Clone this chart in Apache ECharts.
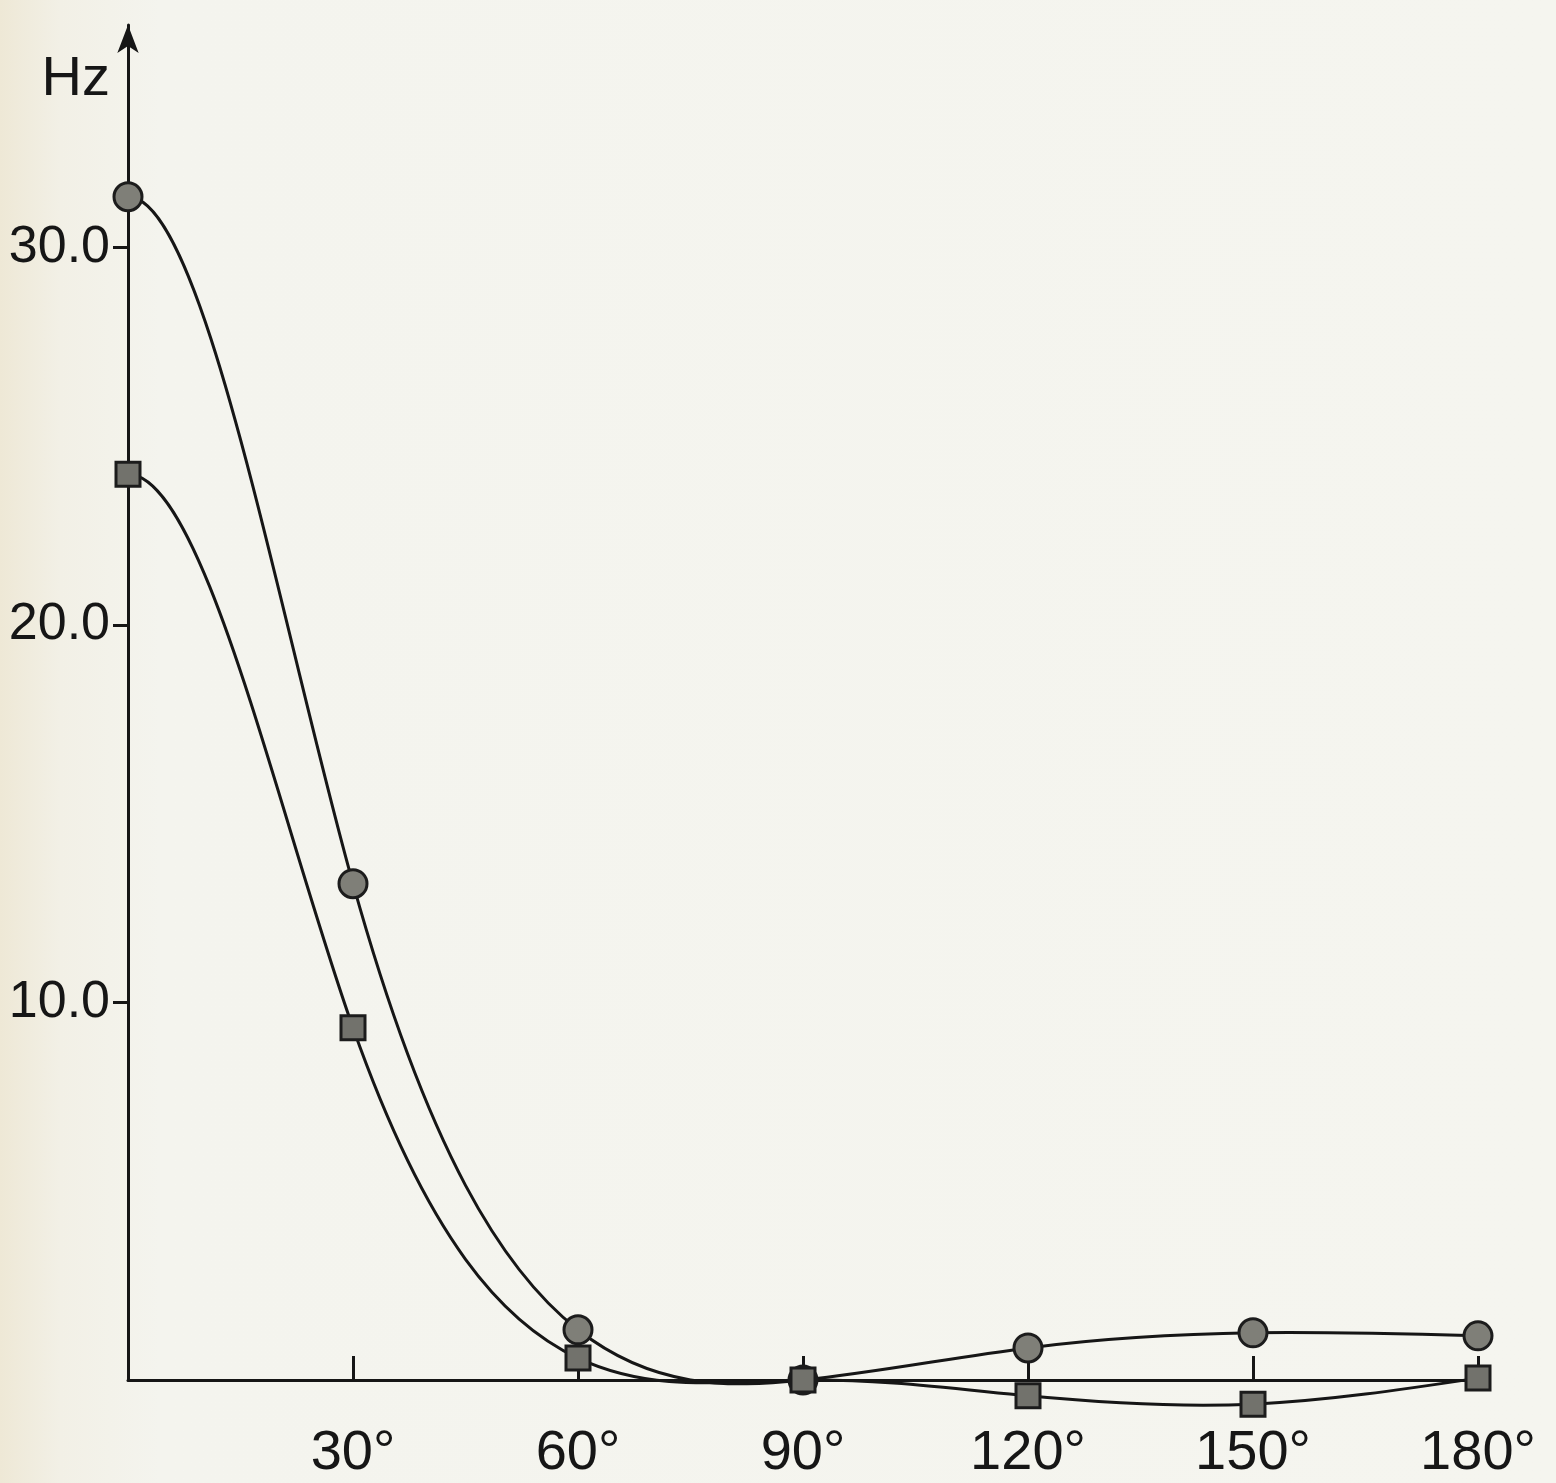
<!DOCTYPE html>
<html>
<head>
<meta charset="utf-8">
<title>Hz vs angle</title>
<script src="https://cdn.jsdelivr.net/npm/echarts@6/dist/echarts.min.js"></script>
<style>
  html, body { margin: 0; padding: 0; }
  #chart {
    width: 1556px;
    height: 1483px;
    background: linear-gradient(to right, #eee8d6 0px, #f2f0e6 60px, #f4f4ee 160px, #f5f5ef 100%);
  }
</style>
</head>
<body>
<div id="chart"></div>
<script>
// angles in degrees
var angles = [0, 30, 60, 90, 120, 150, 180]
// circle markers (upper curve), Hz
var circleHz = [31.35, 13.15, 1.33, 0.0, 0.85, 1.25, 1.17]
// square markers (lower curve), Hz
var squareHz = [24.0, 9.33, 0.58, 0.0, -0.42, -0.64, 0.05]
// tick labels
var yTicks = [10, 20, 30]
var xTicks = [30, 60, 90, 120, 150, 180]

var font = "'Liberation Sans', 'DejaVu Sans', sans-serif"
var ink = '#161616'

function pairs (ys) {
  return angles.map(function (a, i) { return [a, ys[i]] })
}

/* slopes of a cubic spline through the points: flat start (the drawn curves
   leave the y axis horizontally), natural end */
function splineSlopes (xs, ys) {
  var n = xs.length
  var h = xs[1] - xs[0]
  var a = [], b = [], c = [], d = []
  a[0] = 0; b[0] = 1; c[0] = 0; d[0] = 0
  for (var i = 1; i < n - 1; i++) {
    a[i] = 1; b[i] = 4; c[i] = 1
    d[i] = 3 * (ys[i + 1] - ys[i - 1]) / h
  }
  a[n - 1] = 1; b[n - 1] = 2; c[n - 1] = 0
  d[n - 1] = 3 * (ys[n - 1] - ys[n - 2]) / h
  for (var k = 1; k < n; k++) {
    var w = a[k] / b[k - 1]
    b[k] -= w * c[k - 1]
    d[k] -= w * d[k - 1]
  }
  var m = []
  m[n - 1] = d[n - 1] / b[n - 1]
  for (var j = n - 2; j >= 0; j--) m[j] = (d[j] - c[j] * m[j + 1]) / b[j]
  return m
}

function curveSeries (ys) {
  var m = splineSlopes(angles, ys)
  return {
    type: 'custom',
    data: pairs(ys),
    clip: false,
    silent: true,
    z: 2,
    renderItem: function (params, api) {
      var i = params.dataIndex
      if (i >= angles.length - 1) return null
      var h = angles[i + 1] - angles[i]
      var p0 = api.coord([angles[i], ys[i]])
      var c1 = api.coord([angles[i] + h / 3, ys[i] + m[i] * h / 3])
      var c2 = api.coord([angles[i + 1] - h / 3, ys[i + 1] - m[i + 1] * h / 3])
      var p1 = api.coord([angles[i + 1], ys[i + 1]])
      return {
        type: 'bezierCurve',
        shape: {x1: p0[0], y1: p0[1], cpx1: c1[0], cpy1: c1[1], cpx2: c2[0], cpy2: c2[1], x2: p1[0], y2: p1[1]},
        style: {stroke: ink, lineWidth: 3, fill: null}
      }
    }
  }
}

var chart = echarts.init(document.getElementById('chart'))
chart.setOption({
  backgroundColor: 'transparent',
  animation: false,
  grid: {left: 128, right: 78, top: 25, bottom: 103},
  xAxis: {
    type: 'value',
    min: 0,
    max: 180,
    interval: 30,
    splitLine: {show: false},
    axisLine: {onZero: true, lineStyle: {color: ink, width: 3}},
    axisTick: {inside: true, length: 24, customValues: xTicks, lineStyle: {color: ink, width: 3}},
    axisLabel: {
      customValues: xTicks,
      margin: 46,
      fontSize: 56,
      fontFamily: font,
      color: ink,
      formatter: function (v) { return v + '°' }
    }
  },
  yAxis: {
    type: 'value',
    min: 0,
    max: 35.9,
    name: 'Hz',
    nameLocation: 'end',
    nameGap: -55,
    nameTextStyle: {fontSize: 56, fontFamily: font, color: ink, align: 'right', verticalAlign: 'middle', padding: [0, 18, 0, 0]},
    splitLine: {show: false},
    axisLine: {symbol: ['none', 'arrow'], symbolSize: [16, 28], lineStyle: {color: ink, width: 3}},
    axisTick: {length: 15, customValues: yTicks, lineStyle: {color: ink, width: 3}},
    axisLabel: {
      customValues: yTicks,
      margin: 18,
      fontSize: 52,
      fontFamily: font,
      color: ink,
      formatter: function (v) { return v.toFixed(1) }
    }
  },
  series: [
    curveSeries(circleHz),
    curveSeries(squareHz),
    {
      name: 'circles',
      type: 'scatter',
      data: pairs(circleHz),
      clip: false,
      symbol: 'circle',
      symbolSize: 28,
      itemStyle: {color: '#7f7f78', borderColor: '#1c1c1c', borderWidth: 3, opacity: 1},
      z: 3
    }, {
      name: 'squares',
      type: 'scatter',
      data: pairs(squareHz),
      clip: false,
      symbol: 'rect',
      symbolSize: 24,
      itemStyle: {color: '#72726c', borderColor: '#1c1c1c', borderWidth: 3, opacity: 1},
      z: 3
    }
  ]
})
</script>
</body>
</html>
